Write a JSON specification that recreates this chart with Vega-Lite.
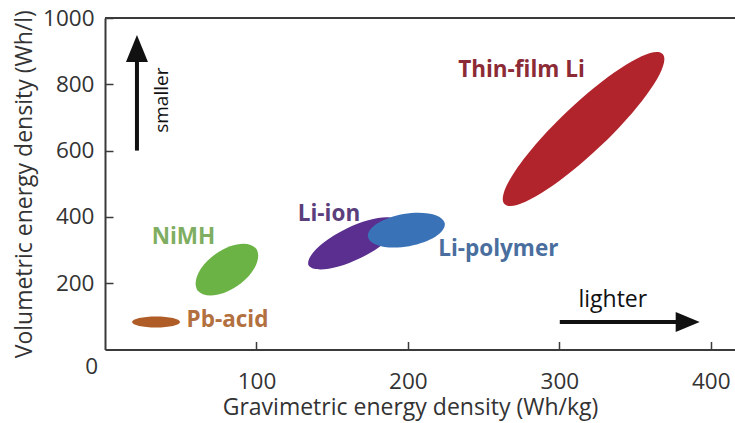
{
  "$schema": "https://vega.github.io/schema/vega-lite/v6.json",
  "width": 630,
  "height": 331.5,
  "autosize": {"type": "none"},
  "padding": {"left": 105, "top": 18, "right": 0, "bottom": 73.5},
  "background": "white",
  "config": {
    "view": {"stroke": null},
    "font": "Open Sans",
    "axis": {
      "domainColor": "#3a3a3a",
      "domainWidth": 2,
      "tickColor": "#3a3a3a",
      "tickWidth": 1.5,
      "tickSize": -8,
      "grid": false,
      "labelFont": "Open Sans",
      "labelFontSize": 22.5,
      "labelColor": "#333333",
      "titleFont": "Open Sans",
      "titleFontSize": 23,
      "titleFontWeight": "normal",
      "titleColor": "#333333",
      "format": "d"
    }
  },
  "datasets": {
    "ellipses": [
      {"battery": "Pb-acid", "gravimetric": 33.7, "volumetric": 83},
      {"battery": "NiMH", "gravimetric": 80.5, "volumetric": 241},
      {"battery": "Li-ion", "gravimetric": 164, "volumetric": 320},
      {"battery": "Li-polymer", "gravimetric": 199, "volumetric": 360},
      {"battery": "Thin-film Li", "gravimetric": 316, "volumetric": 665}
    ],
    "labels": [
      {"battery": "Pb-acid", "gravimetric": 80.9, "volumetric": 90},
      {"battery": "NiMH", "gravimetric": 51.8, "volumetric": 338},
      {"battery": "Li-ion", "gravimetric": 147.9, "volumetric": 408},
      {"battery": "Li-polymer", "gravimetric": 259.7, "volumetric": 302},
      {"battery": "Thin-film Li", "gravimetric": 275, "volumetric": 843}
    ],
    "arrows": [
      {"dir": "up", "x": 21.1, "y": 600, "x2": 21.1, "y2": 890, "tipx": 21.1, "tipy": 948.7},
      {"dir": "right", "x": 300.3, "y": 83, "x2": 381, "y2": 83, "tipx": 392.7, "tipy": 83}
    ],
    "frame": [
      {"gravimetric": 0, "volumetric": 1000},
      {"gravimetric": 416, "volumetric": 1000}
    ]
  },
  "layer": [
    {
      "data": {"name": "ellipses"},
      "mark": {"type": "point", "filled": true, "size": 4, "opacity": 1, "strokeWidth": 0},
      "encoding": {
        "x": {
          "field": "gravimetric", "type": "quantitative",
          "scale": {"domain": [0, 416], "nice": false, "zero": false},
          "axis": {
            "title": "Gravimetric energy density (Wh/kg)",
            "values": [100, 200, 300, 400],
            "labelPadding": 29,
            "titleX": 305,
            "titlePadding": 3
          }
        },
        "y": {
          "field": "volumetric", "type": "quantitative",
          "scale": {"domain": [0, 1000], "nice": false, "zero": false},
          "axis": {
            "title": "Volumetric energy density (Wh/l)",
            "values": [200, 400, 600, 800, 1000],
            "labelPadding": 19,
            "titlePadding": 6
          }
        },
        "shape": {
          "field": "battery", "type": "nominal", "legend": null,
          "scale": {
            "domain": ["Pb-acid", "NiMH", "Li-ion", "Li-polymer", "Thin-film Li"],
            "range": [
              "M 24 0 A 24 5.5 0 0 1 -24 0 A 24 5.5 0 0 1 24 0 Z",
              "M 29.5 -20.6 A 36 20 -35 0 1 -29.5 20.6 A 36 20 -35 0 1 29.5 -20.6 Z",
              "M 44.9 -21.9 A 50 17 -26 0 1 -44.9 21.9 A 50 17 -26 0 1 44.9 -21.9 Z",
              "M 38.4 -6.8 A 39 16.5 -10 0 1 -38.4 6.8 A 39 16.5 -10 0 1 38.4 -6.8 Z",
              "M 79.1 -75 A 109 24 -43.5 0 1 -79.1 75 A 109 24 -43.5 0 1 79.1 -75 Z"
            ]
          }
        },
        "color": {
          "field": "battery", "type": "nominal", "legend": null,
          "scale": {
            "domain": ["Pb-acid", "NiMH", "Li-ion", "Li-polymer", "Thin-film Li"],
            "range": ["#b05c27", "#6cb346", "#5a2f8f", "#3a72b8", "#b2242c"]
          }
        }
      }
    },
    {
      "data": {"name": "labels"},
      "mark": {"type": "text", "fontWeight": "bold", "fontSize": 22.5, "align": "center", "baseline": "middle", "font": "Open Sans"},
      "encoding": {
        "x": {"field": "gravimetric", "type": "quantitative"},
        "y": {"field": "volumetric", "type": "quantitative"},
        "text": {"field": "battery"},
        "color": {
          "field": "battery", "type": "nominal", "legend": null,
          "scale": {
            "domain": ["Pb-acid", "NiMH", "Li-ion", "Li-polymer", "Thin-film Li"],
            "range": ["#b3703f", "#7fae62", "#5b3e7c", "#4a6e9e", "#8c2b36"]
          }
        }
      }
    },
    {
      "data": {"name": "arrows"},
      "mark": {"type": "rule", "strokeWidth": 4, "color": "#111111"},
      "encoding": {
        "x": {"field": "x", "type": "quantitative"},
        "x2": {"field": "x2"},
        "y": {"field": "y", "type": "quantitative"},
        "y2": {"field": "y2"}
      }
    },
    {
      "data": {"name": "arrows"},
      "mark": {"type": "point", "filled": true, "size": 4, "opacity": 1, "strokeWidth": 0, "color": "#111111"},
      "encoding": {
        "x": {"field": "tipx", "type": "quantitative"},
        "y": {"field": "tipy", "type": "quantitative"},
        "shape": {
          "field": "dir", "type": "nominal", "legend": null,
          "scale": {
            "domain": ["up", "right"],
            "range": ["M 0 0 L 11 27 L -11 27 Z", "M 0 0 L -24 -10 L -24 10 Z"]
          }
        }
      }
    },
    {
      "data": {"values": [{"word": "lighter", "gravimetric": 335.3, "volumetric": 149}]},
      "mark": {"type": "text", "fontSize": 23, "align": "center", "baseline": "middle", "color": "#111111", "font": "Open Sans"},
      "encoding": {
        "x": {"field": "gravimetric", "type": "quantitative"},
        "y": {"field": "volumetric", "type": "quantitative"},
        "text": {"field": "word"}
      }
    },
    {
      "data": {"values": [{"word": "smaller", "gravimetric": 37.6, "volumetric": 752}]},
      "mark": {"type": "text", "fontSize": 19, "angle": 270, "align": "center", "baseline": "middle", "color": "#111111", "font": "Open Sans"},
      "encoding": {
        "x": {"field": "gravimetric", "type": "quantitative"},
        "y": {"field": "volumetric", "type": "quantitative"},
        "text": {"field": "word"}
      }
    },
    {
      "data": {"name": "frame"},
      "mark": {"type": "line", "color": "#3a3a3a", "strokeWidth": 2},
      "encoding": {
        "x": {"field": "gravimetric", "type": "quantitative"},
        "y": {"field": "volumetric", "type": "quantitative"}
      }
    },
    {
      "data": {"values": [{"origin": "0", "gravimetric": 0, "volumetric": 0}]},
      "mark": {"type": "text", "fontSize": 22.5, "align": "right", "baseline": "middle", "dx": -7, "dy": 17, "color": "#333333", "font": "Open Sans"},
      "encoding": {
        "x": {"field": "gravimetric", "type": "quantitative"},
        "y": {"field": "volumetric", "type": "quantitative"},
        "text": {"field": "origin"}
      }
    }
  ],
  "resolve": {"scale": {"color": "independent", "shape": "independent"}}
}
